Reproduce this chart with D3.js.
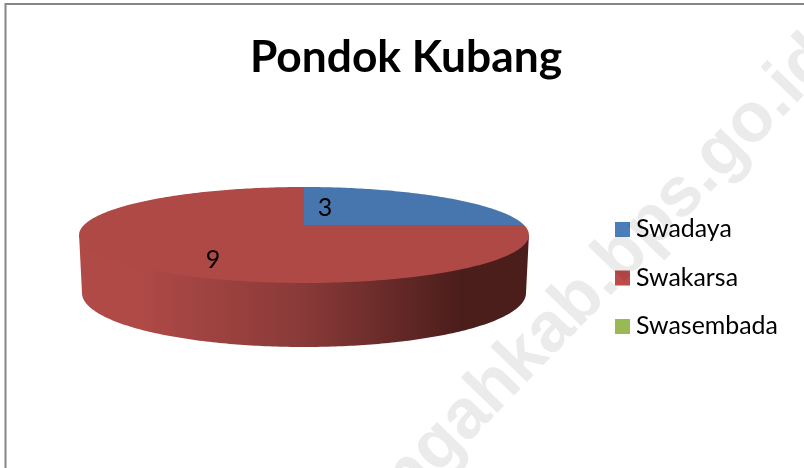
<!DOCTYPE html>
<html>

<head>
    <title>Pondok Kubang</title>
    <script src="https://d3js.org/d3.v7.min.js"></script>
    <style>
        html, body { margin: 0; padding: 0; background: #fff; overflow: hidden; }
        svg { display: block; }
    </style>
</head>

<body>
    <script>
        const categories = ['Swadaya', 'Swakarsa', 'Swasembada']
        const values = [3, 9, 0]
        const title = 'Pondok Kubang'
        const watermark = 'bengkulutengahkab.bps.go.id'

        const topColors = ['#4775ae', '#ae4946', '#8fae4f']
        const legendColors = ['#4a7ebb', '#be4b48', '#98b954']

        const msm = { width: 804, height: 468 }

        let svg = d3.select('body')
            .append('svg')
            .attr('width', msm.width)
            .attr('height', msm.height)

        // shading of the side wall
        let grad = svg.append('defs').append('linearGradient')
            .attr('id', 'wall')
            .attr('gradientUnits', 'userSpaceOnUse')
            .attr('x1', 79).attr('x2', 529)
            .attr('y1', 0).attr('y2', 0)
        grad.selectAll('stop')
            .data([[0.12, '#b04a47'], [0.5, '#893a38'], [0.85, '#4b1d1b']])
            .enter()
            .append('stop')
            .attr('offset', d => d[0])
            .attr('stop-color', d => d[1])

        // frame
        svg.append('path')
            .attr('d', 'M5.5,468V4H804')
            .attr('fill', 'none')
            .attr('stroke', '#868686')
            .attr('stroke-width', 2)

        svg.append('text')
            .attr('x', 406)
            .attr('y', 72)
            .attr('text-anchor', 'middle')
            .attr('font-family', 'Lato')
            .attr('font-weight', 700)
            .attr('font-size', 44.3)
            .attr('fill', '#000')
            .text(title)

        // the pie is tilted in perspective, so the centre sits above the middle of the ellipse
        const cx = 304, cy = 225, rx = 220, far = 38, near = 58
        const B = (far - near) / (far + near)
        const A = near * (1 + B)

        function project(a, r) {
            let u = Math.sin(a) * r, v = -Math.cos(a) * r
            let w = 1 + B * v
            return [cx + rx * u / w, cy + A * v / w]
        }

        // bottom rim of the wall
        const bottom = { cx: 304, cy: 293, rx: 222, ry: 54 }

        let pie = d3.pie().sort(null).value(d => d)
        let arcs = pie(values)
        let line = d3.line()

        function samples(a0, a1) {
            let n = Math.max(2, Math.ceil((a1 - a0) * 60))
            return d3.range(n + 1).map(i => a0 + (a1 - a0) * i / n)
        }

        // angle on the top rim where it is widest
        const side = Math.acos(B)

        // wall, only the part facing the viewer. its upper edge runs a little inside
        // the top face so no light seam shows between them
        let wallPts = samples(side, 2 * Math.PI - side)
            .map((a, i, all) => project(a, i == 0 || i == all.length - 1 ? 1 : 0.97))
        let rimPts = samples(Math.PI / 2, 3 * Math.PI / 2).reverse()
            .map(a => [bottom.cx + bottom.rx * Math.sin(a), bottom.cy - bottom.ry * Math.cos(a)])
        svg.append('path')
            .attr('d', line(wallPts.concat(rimPts)) + 'Z')
            .attr('fill', 'url(#wall)')

        // top face
        svg.append('g')
            .selectAll('path')
            .data(arcs.filter(d => d.value > 0))
            .enter()
            .append('path')
            .attr('d', d => line([[cx, cy]].concat(samples(d.startAngle, d.endAngle).map(a => project(a, 1)))) + 'Z')
            .attr('fill', d => topColors[d.index])

        // data labels, placed by hand in the original
        const labelPos = [[325, 216], [213, 268]]
        svg.append('g')
            .selectAll('text')
            .data(arcs.filter(d => d.value > 0))
            .enter()
            .append('text')
            .attr('x', d => labelPos[d.index][0])
            .attr('y', d => labelPos[d.index][1])
            .attr('text-anchor', 'middle')
            .attr('font-family', 'Lato')
            .attr('font-size', 25)
            .attr('fill', '#000')
            .text(d => d.value)

        // legend
        let y = d3.scalePoint().domain(categories).range([222, 319])
        let legend = svg.append('g')
            .selectAll('g')
            .data(categories)
            .enter()
            .append('g')
            .attr('transform', d => `translate(615,${y(d)})`)

        legend.append('rect')
            .attr('width', 15)
            .attr('height', 15)
            .attr('fill', (d, i) => legendColors[i])

        legend.append('text')
            .attr('x', 21)
            .attr('y', 15)
            .attr('font-family', 'Lato')
            .attr('font-size', 24.9)
            .attr('fill', '#000')
            .text(d => d)

        // watermark lies over everything
        svg.append('text')
            .attr('transform', 'translate(837,61) rotate(-46)')
            .attr('text-anchor', 'end')
            .attr('font-family', 'Liberation Sans')
            .attr('font-weight', 700)
            .attr('font-size', 70)
            .attr('fill', '#ebebeb')
            .style('mix-blend-mode', 'multiply')
            .text(watermark)
    </script>
</body>
</html>
